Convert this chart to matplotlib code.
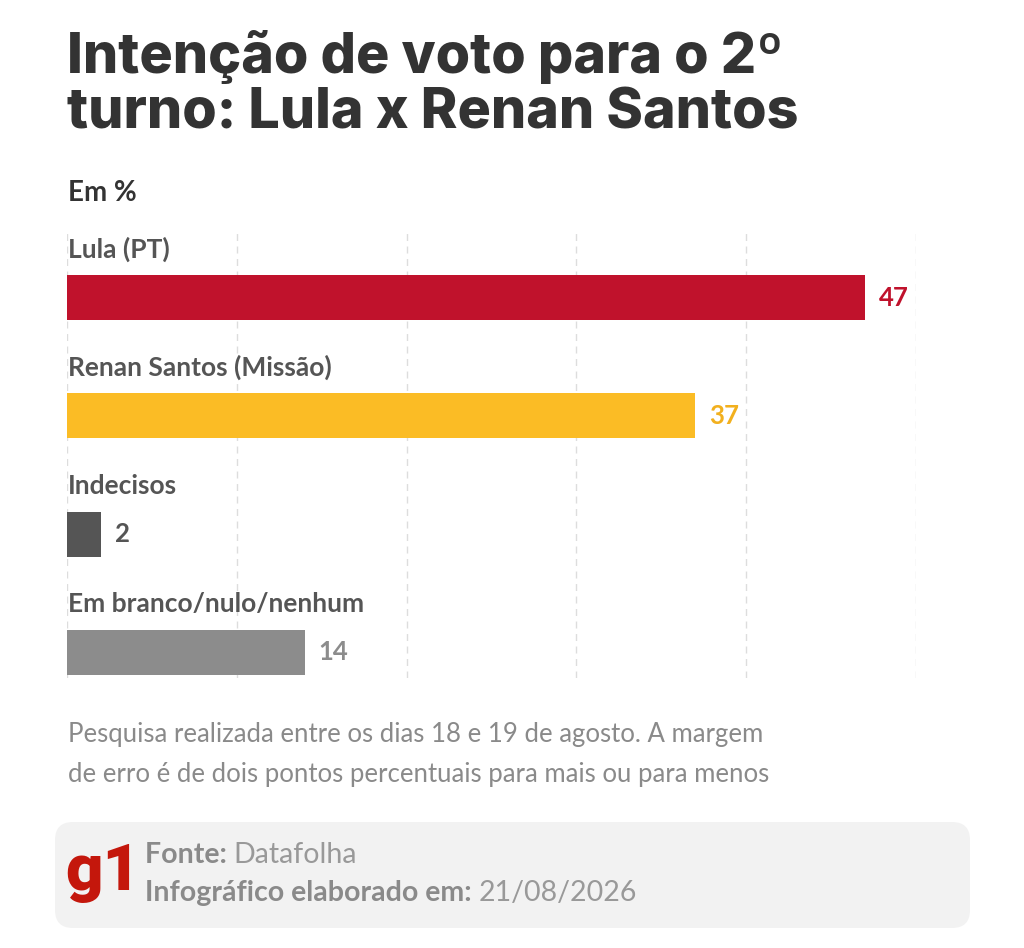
import matplotlib
matplotlib.use("Agg")
import matplotlib.pyplot as plt
from matplotlib.patches import FancyBboxPatch

# ---- data ----
categories = ["Lula (PT)", "Renan Santos (Missão)", "Indecisos", "Em branco/nulo/nenhum"]
values = [47, 37, 2, 14]
bar_colors = ["#C0122C", "#FBBC25", "#555555", "#8C8C8C"]
label_colors = ["#C0122C", "#F2B01E", "#555555", "#8C8C8C"]
grid_ticks = [0, 10, 20, 30, 40, 50]

title_lines = ["Intenção de voto para o 2º", "turno: Lula x Renan Santos"]
subtitle = "Em %"
note_lines = ["Pesquisa realizada entre os dias 18 e 19 de agosto. A margem",
              "de erro é de dois pontos percentuais para mais ou para menos"]
source_label, source_value = "Fonte:", "Datafolha"
date_label, date_value = "Infográfico elaborado em:", "21/08/2026"

FONT = ["Lato", "DejaVu Sans"]
TITLE_FONT = ["Inter", "Lato", "DejaVu Sans"]
plt.rcParams["font.family"] = FONT

W, H = 1024, 948
fig = plt.figure(figsize=(W / 100, H / 100), dpi=100)
fig.patch.set_facecolor("white")

# pixel-coordinate background axes
bg = fig.add_axes([0, 0, 1, 1])
bg.set_xlim(0, W)
bg.set_ylim(H, 0)
bg.axis("off")

# title
for i, line in enumerate(title_lines):
    bg.text(67, 73 + i * 55, line, fontsize=40, fontweight="heavy",
            family=TITLE_FONT, color="#333333", ha="left", va="baseline")

bg.text(68, 201, subtitle, fontsize=20, fontweight="bold", color="#333333",
        ha="left", va="baseline")

# footnote
for i, line in enumerate(note_lines):
    bg.text(68, 742 + i * 40, line, fontsize=18.5, color="#8a8a8a",
            ha="left", va="baseline")

# footer box
box = FancyBboxPatch((68, 835), 889, 80, boxstyle="round,pad=13,rounding_size=18",
                     facecolor="#F2F2F2", edgecolor="none")
bg.add_patch(box)
bg.text(65, 890, "g1", fontsize=47, fontweight="black", color="#C4170C",
        family=["Roboto", "DejaVu Sans"], ha="left", va="baseline")
t1 = bg.text(145, 863, source_label + " ", fontsize=20.5, fontweight="bold",
             color="#8a8a8a", ha="left", va="baseline")
t2 = bg.text(145, 901, date_label + " ", fontsize=20.5, fontweight="bold",
             color="#8a8a8a", ha="left", va="baseline")
fig.canvas.draw()
r = fig.canvas.get_renderer()
for t, val in ((t1, source_value), (t2, date_value)):
    bb = t.get_window_extent(renderer=r)
    x_end = bg.transData.inverted().transform((bb.x1, bb.y0))[0]
    bg.text(x_end, t.get_position()[1], val, fontsize=20.5, color="#999999",
            ha="left", va="baseline")

# bar axes (pixel extents: x 67..916, y 232..678)
x0, x1, ytop, ybot = 67, 916, 232, 678
ax = fig.add_axes([x0 / W, 1 - ybot / H, (x1 - x0) / W, (ybot - ytop) / H])
ax.set_facecolor("none")
ax.set_xlim(0, 50)
spacing = 118.3
ax.set_ylim(3 + (ybot - 652.5) / spacing, -(297.5 - ytop) / spacing)
pos = list(range(len(categories)))
ax.barh(pos, values, height=45 / spacing, color=bar_colors, zorder=3)
ax.set_xticks(grid_ticks)
ax.grid(axis="x", color="#dddddd", linestyle=(0, (5, 4)), linewidth=1, zorder=0)
ax.tick_params(length=0, labelbottom=False, labelleft=False)
ax.set_yticks([])
for s in ax.spines.values():
    s.set_visible(False)

for p, cat, v, lc in zip(pos, categories, values, label_colors):
    ax.text(0.05, p - 0.41, cat, fontsize=19, fontweight="bold", color="#555555",
            ha="left", va="center", zorder=4)
    ax.annotate(str(v), (v, p), xytext=(10, 0), textcoords="offset points",
                fontsize=18.5, fontweight="bold", color=lc, ha="left", va="center")

fig.savefig("out.png", dpi=100)
